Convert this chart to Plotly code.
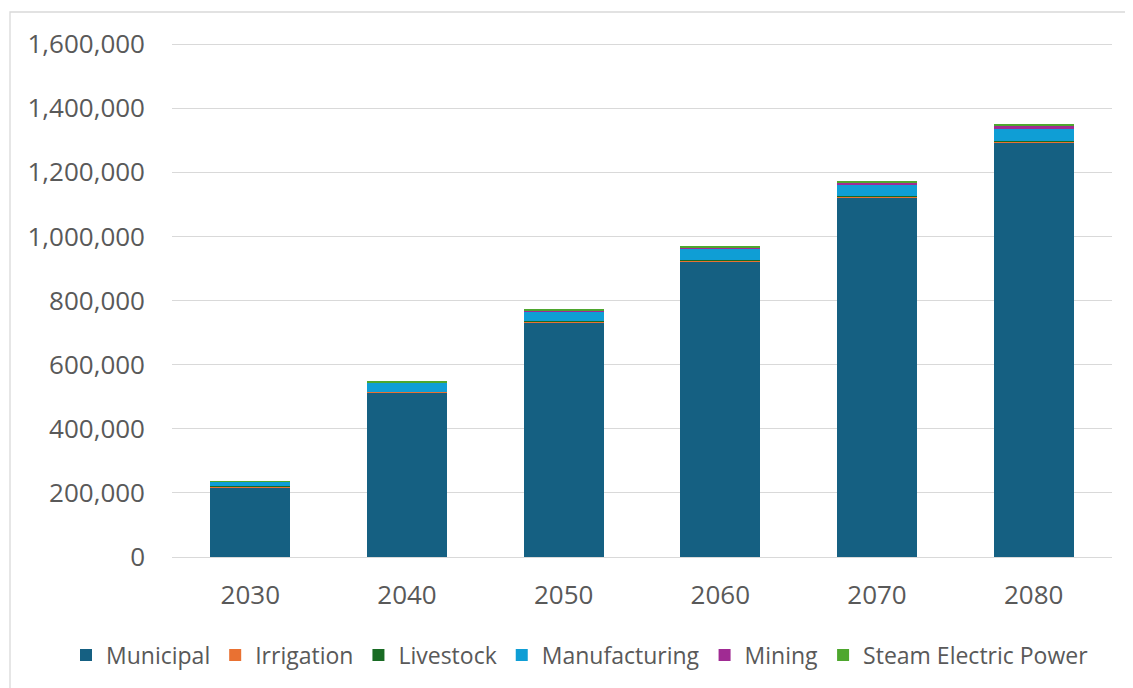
import plotly.graph_objects as go

years = ["2030", "2040", "2050", "2060", "2070", "2080"]
municipal = [218000, 512000, 732000, 922000, 1120000, 1292000]
irrigation = [3000, 3000, 4000, 4000, 4000, 4000]
livestock = [1000, 1000, 1000, 1000, 1000, 1000]
manufacturing = [12000, 27000, 29000, 34000, 36000, 38000]
mining = [1000, 2000, 4000, 5000, 6000, 8000]
steam = [1000, 4000, 5000, 5000, 6000, 7000]

series = [
    ("Municipal", municipal, "#156082"),
    ("Irrigation", irrigation, "#E97132"),
    ("Livestock", livestock, "#196B24"),
    ("Manufacturing", manufacturing, "#0F9ED5"),
    ("Mining", mining, "#A02B93"),
    ("Steam Electric Power", steam, "#4EA72E"),
]

fig = go.Figure()
for name, vals, color in series:
    fig.add_trace(go.Bar(x=years, y=vals, name=name, marker=dict(color=color, line=dict(width=0))))

# the page body has an 8px margin, so figure coords = page coords - 8
OFF = 8
W, H = 1133 - OFF, 688 - OFF
YMAX_PX = 22000  # headroom above the top gridline
L, R, B = 172 - OFF, 21, 131
T = round(44 - OFF - 513 * YMAX_PX / 1600000)
pw, ph = W - L - R, H - T - B

def px_x(px):  # page px -> paper x
    return (px - OFF - L) / pw

def px_y(py):  # page px -> paper y
    return (H - B - (py - OFF)) / ph

font_family = "Open Sans, Noto Sans, sans-serif"
fig.update_layout(
    barmode="stack",
    bargap=0.49,
    width=W, height=H,
    margin=dict(l=L, r=R, t=T, b=B, autoexpand=False),
    paper_bgcolor="white",
    plot_bgcolor="white",
    font=dict(family=font_family, size=25, color="#595959"),
    showlegend=True,
    legend=dict(
        orientation="h", xref="paper", yref="paper",
        x=px_x(66), xanchor="left", y=px_y(655), yanchor="middle",
        font=dict(size=23, color="#595959"), traceorder="normal",
        itemwidth=30, tracegroupgap=0,
    ),
    xaxis=dict(showgrid=False, showline=False, ticks="", automargin=False,
               ticklabelstandoff=20, tickfont=dict(size=26, color="#595959")),
    yaxis=dict(
        range=[0, 1600000 + YMAX_PX], dtick=200000, tick0=0,
        tickformat=",d", automargin=False,
        showgrid=True, gridcolor="#D9D9D9", gridwidth=1.3,
        zeroline=True, zerolinecolor="#D9D9D9", zerolinewidth=1.3,
        showline=False, ticks="", ticklabelstandoff=26,
        tickfont=dict(size=26, color="#595959"),
    ),
    shapes=[dict(
        type="rect", xref="paper", yref="paper",
        x0=px_x(10), x1=px_x(1200), y0=px_y(760), y1=px_y(12),
        line=dict(color="#D9D9D9", width=1.3), fillcolor="rgba(0,0,0,0)", layer="below",
    )],
)

fig.write_html("out.html")
